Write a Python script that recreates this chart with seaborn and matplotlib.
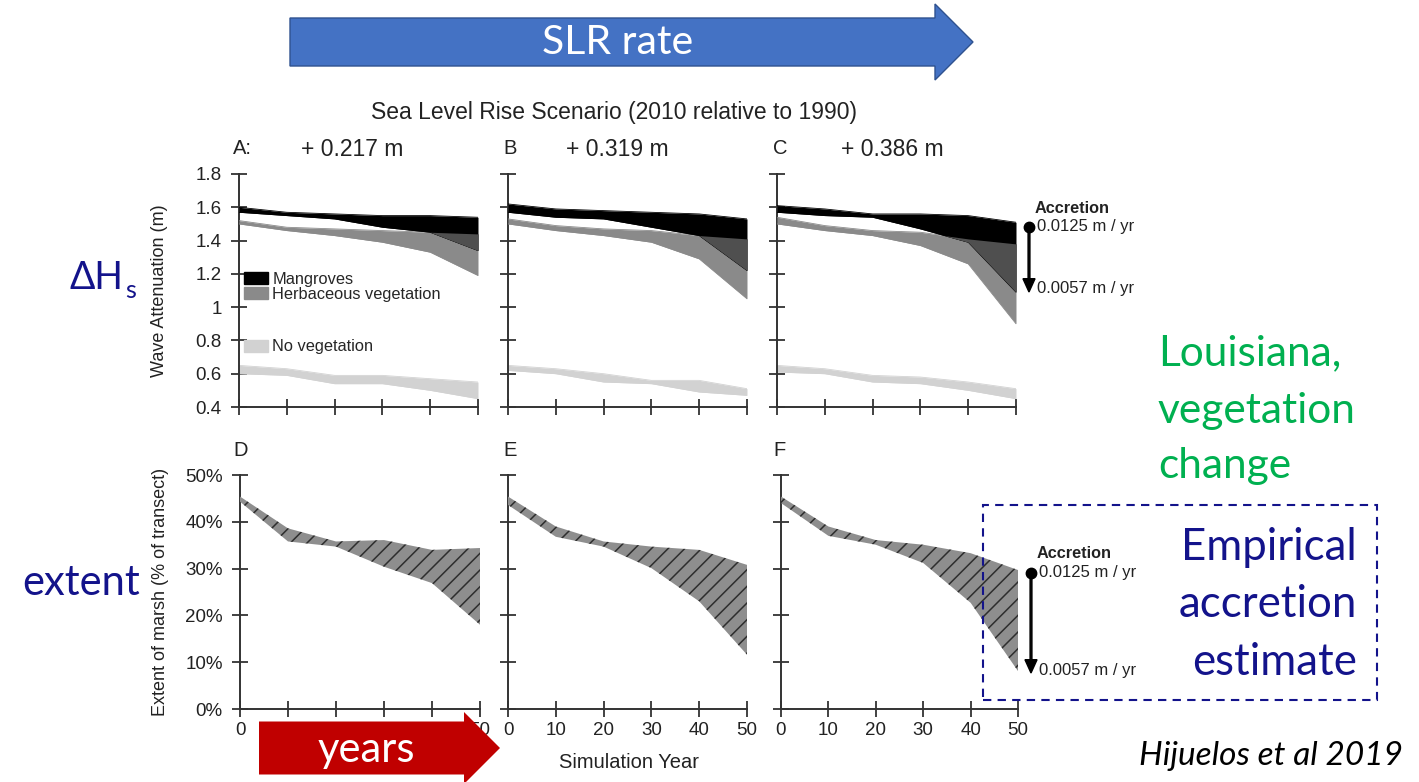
import matplotlib.pyplot as plt
import numpy as np
import seaborn as sns
from matplotlib.patches import FancyArrow, Rectangle, Patch
from matplotlib.ticker import FuncFormatter, PercentFormatter, FixedFormatter

W, H = 1419, 782

years = [0, 10, 20, 30, 40, 50]
scenarios = ["+ 0.217 m", "+ 0.319 m", "+ 0.386 m"]
top_letters = ["A:", "B", "C"]
bottom_letters = ["D", "E", "F"]

# wave attenuation (m); "hi" = 0.0125 m/yr accretion, "lo" = 0.0057 m/yr
mang_hi_a = [1.60, 1.57, 1.56, 1.55, 1.55, 1.54]
mang_lo_a = [1.57, 1.55, 1.53, 1.48, 1.45, 1.34]
herb_hi_a = [1.52, 1.48, 1.47, 1.46, 1.45, 1.44]
herb_lo_a = [1.50, 1.46, 1.43, 1.39, 1.33, 1.19]
bare_hi_a = [0.65, 0.63, 0.59, 0.59, 0.57, 0.55]
bare_lo_a = [0.60, 0.59, 0.54, 0.54, 0.50, 0.45]

mang_hi_b = [1.62, 1.59, 1.58, 1.57, 1.56, 1.53]
mang_lo_b = [1.57, 1.54, 1.53, 1.48, 1.43, 1.22]
herb_hi_b = [1.53, 1.49, 1.47, 1.46, 1.43, 1.41]
herb_lo_b = [1.50, 1.46, 1.43, 1.39, 1.29, 1.05]
bare_hi_b = [0.65, 0.63, 0.60, 0.56, 0.56, 0.51]
bare_lo_b = [0.62, 0.60, 0.55, 0.54, 0.49, 0.47]

mang_hi_c = [1.61, 1.59, 1.56, 1.56, 1.55, 1.51]
mang_lo_c = [1.57, 1.55, 1.54, 1.47, 1.39, 1.09]
herb_hi_c = [1.54, 1.49, 1.46, 1.45, 1.41, 1.38]
herb_lo_c = [1.50, 1.46, 1.43, 1.37, 1.26, 0.90]
bare_hi_c = [0.65, 0.63, 0.59, 0.58, 0.55, 0.51]
bare_lo_c = [0.61, 0.60, 0.55, 0.54, 0.50, 0.45]

# extent of marsh (% of transect)
marsh_hi_d = [45.4, 38.6, 35.8, 36.1, 34.0, 34.4]
marsh_lo_d = [44.3, 35.8, 34.7, 30.4, 26.9, 18.0]
marsh_hi_e = [45.4, 39.0, 35.8, 34.7, 34.0, 30.8]
marsh_lo_e = [43.6, 36.8, 34.7, 30.1, 23.0, 11.6]
marsh_hi_f = [45.4, 39.0, 36.1, 35.1, 33.3, 29.7]
marsh_lo_f = [44.0, 37.0, 35.1, 31.2, 22.7, 8.1]

accretion_labels = ["0.0125 m / yr", "0.0057 m / yr"]

MANG = "#000000"
HERB = "#8a8a8a"
OVER = "#4f4f4f"
BARE = "#d2d2d2"
MARSH = "#8e8e8e"
AXC = "#333333"
TXT = "#222222"
NAVY = "#13138b"
GREEN = "#00b050"

sns.set_theme(style="ticks", rc={"hatch.color": "#2e2e2e", "hatch.linewidth": 1.1})
plt.rcParams["font.family"] = ["Liberation Sans", "DejaVu Sans"]
SLIDE = ["Lato", "DejaVu Sans"]


def fx(x):
    return x / W


def fy(y):
    return 1 - y / H


def style_axis(ax, ylim, yticks):
    ax.set_xlim(0, 50)
    ax.set_ylim(*ylim)
    ax.set_xticks(years)
    ax.set_yticks(yticks)
    ax.tick_params(direction="inout", length=11, width=1.3, color=AXC,
                   labelsize=13.5, labelcolor=TXT)
    ax.tick_params(axis="y", pad=7)
    ax.tick_params(axis="x", pad=4)
    for s in ("left", "bottom"):
        ax.spines[s].set_color(AXC)
        ax.spines[s].set_linewidth(1.4)
    ax.set_facecolor("none")
    sns.despine(ax=ax)


def band(ax, lo, hi, color, z):
    ax.fill_between(years, lo, hi, color=color, linewidth=0, zorder=z)
    for v in (lo, hi):
        sns.lineplot(x=years, y=v, ax=ax, color=color, linewidth=0.6, zorder=z, legend=False)


fig = plt.figure(figsize=(W / 100, H / 100), dpi=100)

top_x = [(239, 478), (508, 747), (777, 1016)]
bot_x = [(240, 480), (508, 747), (781, 1018)]

top_data = [
    (mang_hi_a, mang_lo_a, herb_hi_a, herb_lo_a, bare_hi_a, bare_lo_a),
    (mang_hi_b, mang_lo_b, herb_hi_b, herb_lo_b, bare_hi_b, bare_lo_b),
    (mang_hi_c, mang_lo_c, herb_hi_c, herb_lo_c, bare_hi_c, bare_lo_c),
]
bot_data = [(marsh_hi_d, marsh_lo_d), (marsh_hi_e, marsh_lo_e), (marsh_hi_f, marsh_lo_f)]

top_axes = []
for i, (x0, x1) in enumerate(top_x):
    ax = fig.add_axes([fx(x0), fy(407), (x1 - x0) / W, (407 - 174) / H])
    mh, ml, hh, hl, bh, bl = [np.array(v) for v in top_data[i]]
    band(ax, bl, bh, BARE, 2)
    band(ax, hl, hh, HERB, 3)
    band(ax, ml, mh, MANG, 4)
    y1 = np.maximum(ml, hl)
    y2 = np.minimum(mh, hh)
    ax.fill_between(years, y1, y2, where=y2 > y1, interpolate=True,
                    color=OVER, linewidth=0, zorder=5)
    style_axis(ax, (0.4, 1.8), np.round(np.arange(0.4, 1.81, 0.2), 1))
    ax.yaxis.set_major_formatter(FuncFormatter(lambda v, p: f"{round(v, 1):g}"))
    ax.tick_params(axis="x", labelbottom=False)
    if i > 0:
        ax.tick_params(axis="y", labelleft=False)
    top_axes.append(ax)

bot_axes = []
for i, (x0, x1) in enumerate(bot_x):
    ax = fig.add_axes([fx(x0), fy(709), (x1 - x0) / W, (709 - 475) / H])
    hi, lo = bot_data[i]
    ax.fill_between(years, lo, hi, facecolor=MARSH, edgecolor="#2e2e2e",
                    hatch="//", linewidth=0, zorder=3)
    style_axis(ax, (0, 50), [0, 10, 20, 30, 40, 50])
    ax.yaxis.set_major_formatter(PercentFormatter(xmax=100, decimals=0))
    if i > 0:
        ax.tick_params(axis="y", labelleft=False)
    bot_axes.append(ax)

# in panel D the middle year labels sit under the "years" arrow
bot_axes[0].xaxis.set_major_formatter(FixedFormatter(["0", "", "", "", "", "50"]))

axA, axD = top_axes[0], bot_axes[0]
axA.set_ylabel("Wave Attenuation (m)", fontsize=13, color=TXT)
axA.yaxis.set_label_coords(-0.295, 0.5)
axD.set_ylabel("Extent of marsh (% of transect)", fontsize=13, color=TXT)
axD.yaxis.set_label_coords(-0.295, 0.5)

# legend in panel A
leg_kw = dict(loc="upper left", frameon=False, fontsize=11.8, handlelength=1.45,
              handleheight=0.75, handletextpad=0.3, labelspacing=0.02,
              borderpad=0, borderaxespad=0)
leg1 = axA.legend(handles=[Patch(color=MANG, label="Mangroves"),
                           Patch(color=HERB, label="Herbaceous vegetation")],
                  bbox_to_anchor=(0.02, 0.58), **leg_kw)
axA.add_artist(leg1)
axA.legend(handles=[Patch(color=BARE, label="No vegetation")],
           bbox_to_anchor=(0.02, 0.29), **leg_kw)

# headers
fig.text(fx(614), fy(113), "Sea Level Rise Scenario (2010 relative to 1990)",
         ha="center", va="center", fontsize=16.5, color=TXT)
for x_letter, x_head, letter, head in zip([233, 503, 773], [352, 617, 892], top_letters, scenarios):
    fig.text(fx(x_letter), fy(149), letter, ha="left", va="center", fontsize=14.5, color=TXT)
    fig.text(fx(x_head), fy(149), head, ha="center", va="center", fontsize=16.5, color=TXT)
for x_letter, letter in zip([233, 503, 773], bottom_letters):
    fig.text(fx(x_letter), fy(450), letter, ha="left", va="center", fontsize=14.5, color=TXT)
fig.text(fx(629), fy(762), "Simulation Year", ha="center", va="center", fontsize=14.5, color=TXT)

# accretion annotations
for (yd, ya, yt, yb), xd in [((227, 292, 213, 289), 1029), ((573, 673, 558, 670), 1031)]:
    fig.text(fx(xd + 6), fy(yt), "Accretion", ha="left", va="baseline",
             fontsize=11.7, fontweight="bold", color=TXT)
    fig.add_artist(plt.Line2D([fx(xd)], [fy(yd)], marker="o", markersize=7.5, color="black"))
    fig.add_artist(FancyArrow(fx(xd), fy(yd), 0, -(ya - yd) / H, width=0.0013,
                              head_width=0.0085, head_length=0.017, length_includes_head=True,
                              color="black", transform=fig.transFigure))
    fig.text(fx(xd + 8), fy(yd), accretion_labels[0], ha="left", va="center", fontsize=12, color=TXT)
    fig.text(fx(xd + 8), fy(yb), accretion_labels[1], ha="left", va="center", fontsize=12, color=TXT)

# slide decorations
fig.add_artist(FancyArrow(fx(290), fy(42), (973 - 290) / W, 0, width=48 / H, head_width=76 / H,
                          head_length=38 / W, length_includes_head=True, facecolor="#4472c4",
                          edgecolor="#2f528f", linewidth=1, transform=fig.transFigure))
fig.text(fx(618), fy(43), "SLR rate", ha="center", va="center", fontsize=29.5, color="white", family=SLIDE)

fig.add_artist(FancyArrow(fx(259), fy(748), (500 - 259) / W, 0, width=53 / H, head_width=72 / H,
                          head_length=36 / W, length_includes_head=True, facecolor="#c00000",
                          edgecolor="#c00000", linewidth=0, transform=fig.transFigure))
fig.text(fx(366), fy(750), "years", ha="center", va="center", fontsize=30, color="white", family=SLIDE)

fig.text(fx(123), fy(289), "ΔH", ha="right", va="baseline", fontsize=27, color=NAVY, family=SLIDE)
fig.text(fx(125), fy(298), "s", ha="left", va="baseline", fontsize=18, color=NAVY, family=SLIDE)
fig.text(fx(140), fy(595), "extent", ha="right", va="baseline", fontsize=30, color=NAVY, family=SLIDE)

for yb, line in zip([365, 423, 478], ["Louisiana,", "vegetation", "change"]):
    fig.text(fx(1158), fy(yb), line, ha="left", va="baseline", fontsize=30.5, color=GREEN, family=SLIDE)

fig.add_artist(Rectangle((fx(983), fy(700)), (1377 - 983) / W, (700 - 505) / H, fill=False,
                         edgecolor=NAVY, linewidth=1.5, linestyle=(0, (4, 3)), transform=fig.transFigure))
for yb, line in zip([560, 617, 675], ["Empirical", "accretion", "estimate"]):
    fig.text(fx(1357), fy(yb), line, ha="right", va="baseline", fontsize=31.5, color=NAVY, family=SLIDE)

fig.text(fx(1403), fy(765), "Hijuelos et al 2019", ha="right", va="baseline", fontsize=24,
         style="italic", color="black", family=SLIDE)

fig.savefig("out.png", dpi=100)
